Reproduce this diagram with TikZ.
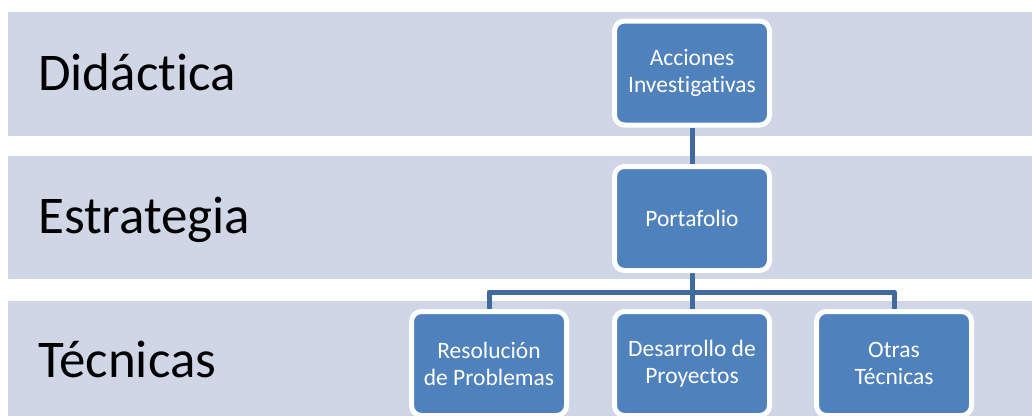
\documentclass[tikz,border=0pt]{standalone}
\usepackage{fontspec}
\setmainfont{Carlito}[Ligatures=NoCommon]
\usetikzlibrary{backgrounds}
\definecolor{bandfill}{HTML}{CFD6E6}
\definecolor{boxfill}{HTML}{4F81BD}
\definecolor{linkcol}{HTML}{416B9E}
\tikzset{
  band/.style={fill=bandfill, draw=none},
  bandlabel/.style={anchor=base west, font=\fontsize{53}{60}\selectfont, text=black, inner sep=0pt},
  unit/.style={rectangle, rounded corners=10pt, fill=boxfill, draw=white, line width=5pt,
    minimum width=155pt, minimum height=104pt, inner sep=0pt, text=white, align=center,
    font=\fontsize{23.5}{27}\selectfont},
  link/.style={draw=linkcol, line width=5pt, line join=round}
}
\begin{document}
\begin{tikzpicture}[x=1pt, y=-1pt]
\useasboundingbox (0,0) rectangle (1032,415);
% level labels
\node[bandlabel] (lvA) at (38,90) {Didáctica};
\node[bandlabel] (lvB) at (38,233) {Estrategia};
\node[bandlabel] (lvC) at (38,377) {Técnicas};
% hierarchy boxes
\node[unit] (acc) at (692,73) {Acciones\\Investigativas};
\node[unit] (port) at (692,218.5) {Portafolio};
\node[unit] (res) at (489,363.5) {Resolución\\de Problemas};
\node[unit] (des) at (692,363.5) {Desarrollo de\\Proyectos};
\node[unit] (otr) at (894,363.5) {Otras\\Técnicas};
\coordinate (fork) at (692,292);
\begin{scope}[on background layer]
  \fill[band] (8,12) rectangle (1032,136);
  \fill[band] (8,156) rectangle (1032,279);
  \fill[band] (8,301) rectangle (1032,420);
  \draw[link] (acc) -- (port);
  \draw[link] (port) -- (fork);
  \draw[link] (fork) -| (res);
  \draw[link] (fork) -- (des);
  \draw[link] (fork) -| (otr);
\end{scope}
\end{tikzpicture}
\end{document}
